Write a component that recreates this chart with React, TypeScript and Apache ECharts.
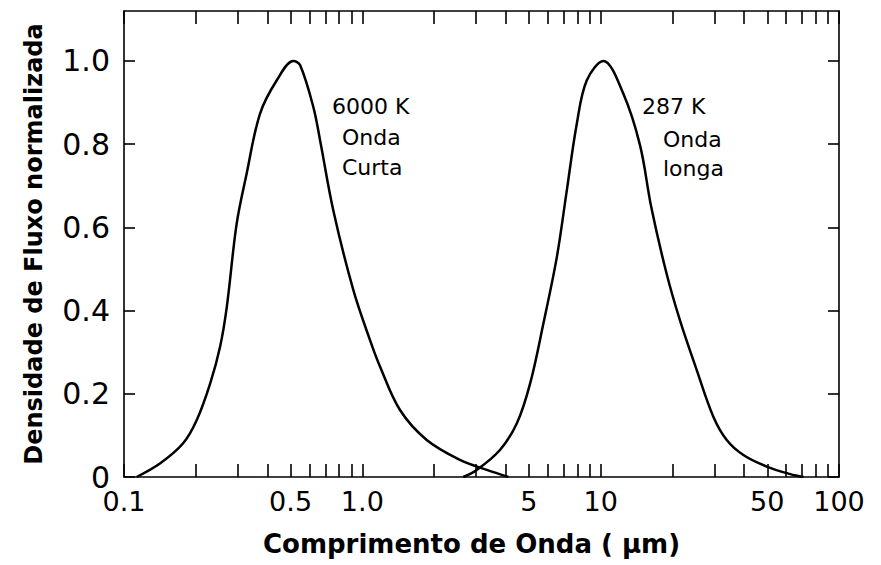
import React, { useEffect, useRef } from 'react';
import * as echarts from 'echarts';

// 6000 K (onda curta) — wavelength in µm and normalized flux density
const shortWaveLambda = [0.113, 0.142, 0.177, 0.202, 0.23, 0.253, 0.27, 0.297, 0.327, 0.372, 0.437, 0.514, 0.548, 0.623, 0.665, 0.756, 0.917, 1.077, 1.187, 1.439, 1.863, 2.57, 3.33, 4.1];
const shortWaveFlux = [0, 0.033, 0.081, 0.137, 0.225, 0.313, 0.409, 0.609, 0.729, 0.873, 0.953, 1.0, 0.99, 0.889, 0.809, 0.64, 0.449, 0.329, 0.265, 0.161, 0.089, 0.041, 0.017, 0];

// 287 K (onda longa)
const longWaveLambda = [2.65, 3.02, 3.78, 4.45, 5.06, 5.75, 6.55, 7.21, 7.94, 8.74, 10.26, 12.45, 14.63, 16.3, 18.9, 21.5, 25.3, 29.7, 33.8, 39.7, 49.8, 62.4, 71];
const longWaveFlux = [0, 0.017, 0.065, 0.129, 0.225, 0.369, 0.529, 0.689, 0.849, 0.953, 1.0, 0.921, 0.797, 0.649, 0.489, 0.377, 0.257, 0.145, 0.089, 0.053, 0.025, 0.007, 0];

// Axis ticks and labels
const xTickValues = [
  0.1, 0.2, 0.3, 0.4, 0.5, 0.6, 0.7, 0.8, 0.9,
  1, 2, 3, 4, 5, 6, 7, 8, 9,
  10, 20, 30, 40, 50, 60, 70, 80, 90, 100,
];
const xLabelValues = [0.1, 0.5, 1, 5, 10, 50, 100];
const xLabelTexts = ['0.1', '0.5', '1.0', '5', '10', '50', '100'];
const yTickValues = [0, 0.2, 0.4, 0.6, 0.8, 1.0];
const yLabelTexts = ['0', '0.2', '0.4', '0.6', '0.8', '1.0'];

const xTitle = 'Comprimento de Onda ( μm)';
const yTitle = 'Densidade de Fluxo normalizada';

const annotations = [
  { text: '6000 K', x: 332, y: 106 },
  { text: 'Onda', x: 342, y: 137 },
  { text: 'Curta', x: 342, y: 167 },
  { text: '287 K', x: 642, y: 106 },
  { text: 'Onda', x: 663, y: 139 },
  { text: 'longa', x: 663, y: 168 },
];

function lookupLabel(values: number[], texts: string[], v: number): string {
  for (let i = 0; i < values.length; i++) {
    const ref = values[i];
    if (Math.abs(v - ref) <= Math.max(1e-6, Math.abs(ref) * 1e-3)) return texts[i];
  }
  return '';
}

export default function App() {
  const ref = useRef<HTMLDivElement>(null);

  useEffect(() => {
    if (!ref.current) return;
    const chart = echarts.init(ref.current, undefined, { renderer: 'svg' });
    const black = '#000';
    const lineStyle = { color: black, width: 1.6 };
    const font = 'DejaVu Sans';

    const xBase = (position: 'bottom' | 'top', showLabel: boolean) => ({
      type: 'log',
      logBase: 10,
      min: 0.1,
      max: 100,
      position,
      axisLine: { show: true, onZero: false, lineStyle },
      axisTick: { show: true, inside: true, length: 13, customValues: xTickValues, lineStyle },
      minorTick: { show: false },
      splitLine: { show: false },
      axisLabel: {
        show: showLabel,
        customValues: xLabelValues,
        formatter: (v: number) => lookupLabel(xLabelValues, xLabelTexts, v),
        fontSize: 27,
        fontFamily: font,
        color: black,
        margin: 11,
      },
    });

    const yBase = (position: 'left' | 'right', showLabel: boolean) => ({
      type: 'value',
      min: 0,
      max: 1.12,
      interval: 0.2,
      position,
      axisLine: { show: true, onZero: false, lineStyle },
      axisTick: { show: true, inside: true, length: 11, customValues: yTickValues, lineStyle },
      splitLine: { show: false },
      axisLabel: {
        show: showLabel,
        customValues: yTickValues,
        formatter: (v: number) => lookupLabel(yTickValues, yLabelTexts, v),
        fontSize: 30,
        fontFamily: font,
        color: black,
        margin: 14,
      },
    });

    const option: any = {
      animation: false,
      backgroundColor: '#fff',
      grid: { left: 124, right: 42, top: 11, bottom: 88, containLabel: false },
      xAxis: [
        {
          ...xBase('bottom', true),
          name: xTitle,
          nameLocation: 'middle',
          nameGap: 54,
          nameTextStyle: { fontSize: 26, fontWeight: 'bold', fontFamily: font, color: black, padding: [0, 20, 0, 0] },
        },
        xBase('top', false),
      ],
      yAxis: [
        {
          ...yBase('left', true),
          name: yTitle,
          nameLocation: 'middle',
          nameGap: 78,
          nameTextStyle: { fontSize: 24, fontWeight: 'bold', fontFamily: font, color: black },
        },
        yBase('right', false),
      ],
      series: [
        {
          type: 'line',
          name: '6000 K',
          xAxisIndex: 0,
          yAxisIndex: 0,
          data: shortWaveLambda.map((l, i) => [l, shortWaveFlux[i]]),
          showSymbol: false,
          smooth: 0.35,
          lineStyle: { color: black, width: 2.5 },
        },
        {
          type: 'line',
          name: '287 K',
          xAxisIndex: 0,
          yAxisIndex: 0,
          data: longWaveLambda.map((l, i) => [l, longWaveFlux[i]]),
          showSymbol: false,
          smooth: 0.35,
          lineStyle: { color: black, width: 2.5 },
        },
      ],
      graphic: annotations.map((a) => ({
        type: 'text',
        x: a.x,
        y: a.y,
        style: {
          text: a.text,
          fontSize: 22,
          fontFamily: font,
          fill: black,
          verticalAlign: 'middle',
          align: 'left',
        },
      })),
    };

    chart.setOption(option);
    return () => chart.dispose();
  }, []);

  return (
    <div
      ref={ref}
      style={{ position: 'fixed', left: 0, top: 0, width: 881, height: 565, background: '#fff' }}
    />
  );
}
